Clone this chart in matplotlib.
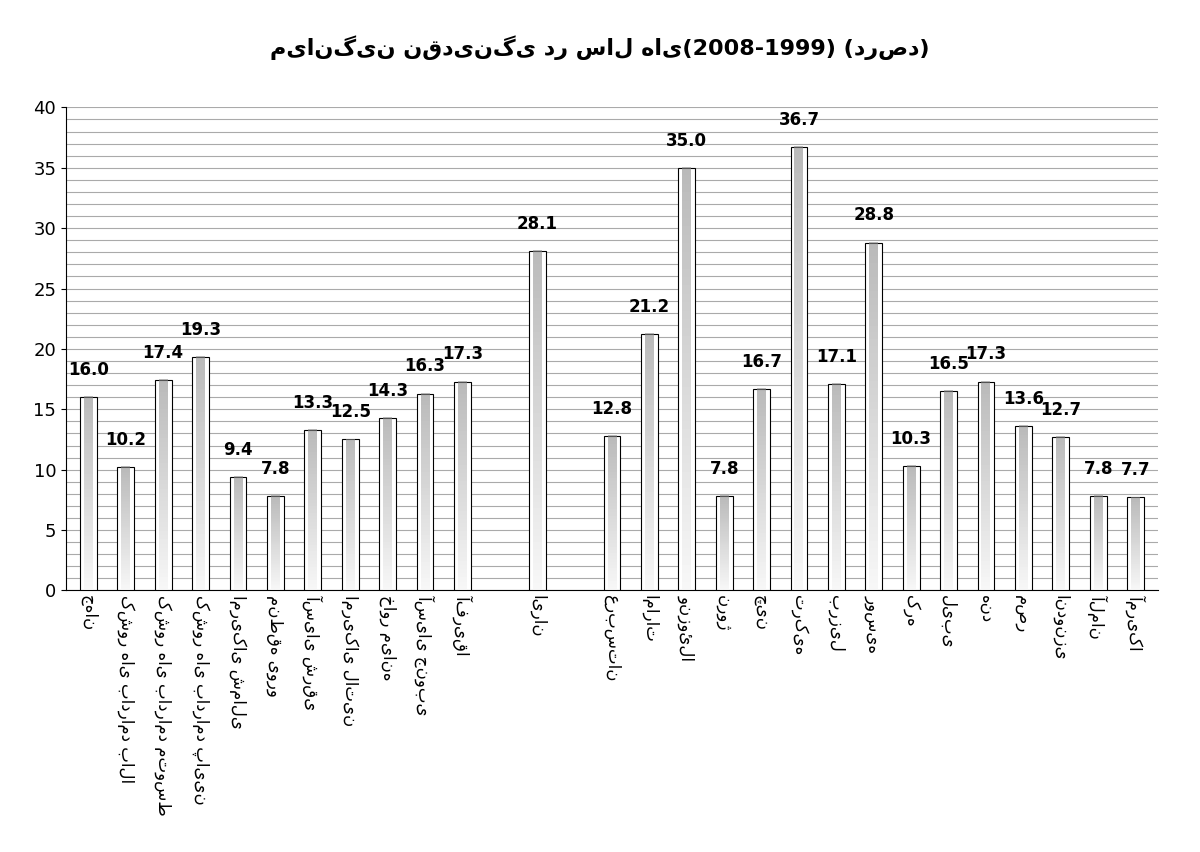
import matplotlib
matplotlib.use("Agg")
import matplotlib.pyplot as plt
import numpy as np

plt.rcParams['font.family'] = ['DejaVu Sans']

categories = ["جهان", "کشور های بادرامد بالا", "کشور های بادرامد متوسط", "کشور های بادرامد پایین",
              "امریکای شمالی", "منطقه یورو", "آسیای شرقی", "امریکای لاتین", "خاور میانه",
              "آسیای جنوبی", "آفریقا", "", "ایران", "", "عربستان", "امارات", "ونزوئلا", "نروژ",
              "چین", "ترکیه", "برزیل", "روسیه", "کره", "لیبی", "هند", "مصر", "اندونزی", "آلمان", "آمریکا"]
values = [16.0, 10.2, 17.4, 19.3, 9.4, 7.8, 13.3, 12.5, 14.3, 16.3, 17.3, None, 28.1, None,
          12.8, 21.2, 35.0, 7.8, 16.7, 36.7, 17.1, 28.8, 10.3, 16.5, 17.3, 13.6, 12.7, 7.8, 7.7]
title = "میانگین نقدینگی در سال های(2008-1999) (درصد)"

fig = plt.figure(figsize=(12, 8.52), dpi=100)
ax = fig.add_axes([0.055, 0.307, 0.91, 0.567])
x = np.arange(len(categories))
for xi, v in zip(x, values):
    if v is None:
        continue
    ax.bar(xi, v, width=0.45, color='white', edgecolor='black', linewidth=0.8, zorder=3)
    grad = np.linspace(0.55, 0.95, 50).reshape(-1, 1)
    ax.imshow(grad, cmap='gray', vmin=0, vmax=1, extent=(xi - 0.12, xi + 0.12, 0, v),
              aspect='auto', zorder=3.5, alpha=0.6)
    ax.text(xi, v + 1.5, f"{v:.1f}", ha='center', va='bottom', fontsize=12, fontweight='bold')
ax.set_xlim(-0.6, len(categories) - 0.4)
ax.set_ylim(0, 40)
ax.set_yticks(range(0, 41, 5))
ax.set_yticks(range(0, 41, 1), minor=True)
ax.tick_params(axis='y', which='minor', length=0)
ax.tick_params(axis='y', labelsize=13)
ax.tick_params(axis='x', length=0)
ax.grid(axis='y', which='both', color='#aaaaaa', linewidth=0.8, zorder=0)
ax.set_axisbelow(True)
ax.set_xticks(x)
ax.set_xticklabels(categories, rotation=-90, fontsize=12, va='top')
for s in ['top', 'right']:
    ax.spines[s].set_visible(False)
fig.text(0.5, 0.935, title, ha='center', fontsize=16, fontweight='bold')
fig.savefig("out.png", dpi=100)
